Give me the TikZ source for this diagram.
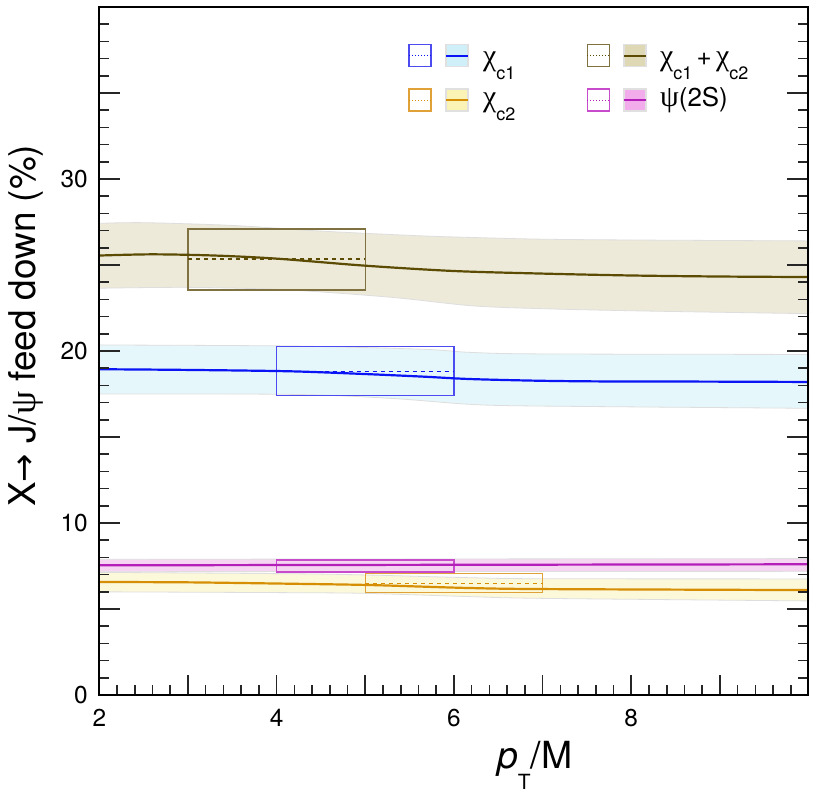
\documentclass[tikz,border=0pt]{standalone}
\usepackage{fontspec}
\setmainfont{TeX Gyre Heros}
\newfontfamily\grk{Liberation Serif}
\newfontfamily\arrowfont{DejaVu Sans}
\definecolor{olline}{HTML}{5C4B03}
\definecolor{olband}{HTML}{EDEADA}
\definecolor{olbox}{HTML}{7F7140}
\definecolor{olleg}{HTML}{DED8B5}
\definecolor{blline}{HTML}{0A14F5}
\definecolor{blband}{HTML}{E6F7FB}
\definecolor{blbox}{HTML}{4B4BF0}
\definecolor{blleg}{HTML}{CFF0F8}
\definecolor{orline}{HTML}{D68F05}
\definecolor{orband}{HTML}{FCF8DA}
\definecolor{orbox}{HTML}{E0A238}
\definecolor{orleg}{HTML}{FBF3B5}
\definecolor{mgline}{HTML}{B41EB9}
\definecolor{mgband}{HTML}{F6D5F2}
\definecolor{mgbox}{HTML}{C84BCB}
\definecolor{mgleg}{HTML}{F2ACEB}
\newcommand\lsub[1]{\raisebox{-14bp}{\fontsize{18}{18}\selectfont #1}}
\tikzset{
  bandedge/.style={draw=black!13, line width=0.8bp},
  curve/.style={line width=2.2bp},
  errbox/.style={line width=1.4bp},
  dashln/.style={line width=1.1bp, dash pattern=on 4bp off 4bp},
  tickln/.style={line width=1.6bp, black!85},
  ticklab/.style={inner sep=0pt, font=\fontsize{24.5}{28}\selectfont},
  legtxt/.style={inner sep=0pt, anchor=base west, font=\fontsize{26}{30}\selectfont},
  legbox/.style={line width=1.2bp},
}
\begin{document}
\begin{tikzpicture}[x=1bp,y=-1bp]
\useasboundingbox (0,0) rectangle (815,793);
\fill[white] (0,0) rectangle (815,793);
% ---------------- data ----------------
\begin{scope}[shift={(-78.02,695)}, x=88.66bp, y=17.2bp]
 % bands
 \filldraw[fill=olband, bandedge] plot[smooth] coordinates {(2,27.42) (2.5,27.46) (3.5,27.3) (4.5,26.97) (5.6,26.7) (6.2,26.6) (7,26.5) (8.1,26.45) (10,26.4)}
   -- plot[smooth] coordinates {(10,22.17) (8.1,22.33) (7,22.46) (6.2,22.63) (5.3,23.12) (4.1,23.56) (3,23.7) (2,23.65)} -- cycle;
 \filldraw[fill=blband, bandedge] plot[smooth] coordinates {(2,20.35) (4.15,20.29) (5.65,20.1) (6.18,19.92) (6.97,19.83) (10,19.8)}
   -- plot[smooth] coordinates {(10,16.67) (6.97,16.8) (6.18,16.9) (5.28,17.25) (4.15,17.48) (2,17.5)} -- cycle;
 \filldraw[fill=orband, bandedge] plot[smooth] coordinates {(2,7.13) (4.15,7.05) (5,6.98) (6.18,6.82) (6.97,6.76) (10,6.75)}
   -- plot[smooth] coordinates {(10,5.47) (6.97,5.62) (6.18,5.72) (5,5.91) (4.15,5.95) (2,6.0)} -- cycle;
 \filldraw[fill=mgband, bandedge] (2,7.89) -- (10,7.93) -- (10,7.19) -- (2,7.17) -- cycle;
 % error boxes and dashed lines
 \draw[olbox, errbox] (3,23.55) rectangle (5,27.1);
 \draw[olline, dashln] (3,25.35) -- (5,25.35);
 \draw[blbox, errbox] (4,17.4) rectangle (6,20.25);
 \draw[blline, dashln] (4,18.8) -- (6,18.8);
 \draw[orbox, errbox] (5,5.97) rectangle (7,7.07);
 \draw[orline, dashln] (5,6.5) -- (7,6.5);
 \draw[mgbox, errbox] (4,7.15) rectangle (6,7.85);
 \draw[mgline, dashln] (4,7.56) -- (6,7.56);
 % central curves
 \draw[olline, curve] plot[smooth] coordinates {(2,25.55) (2.6,25.62) (3.3,25.55) (4,25.37) (5,24.96) (6,24.65) (7,24.5) (8,24.39) (9,24.33) (10,24.3)};
 \draw[blline, curve] plot[smooth] coordinates {(2,18.94) (3,18.9) (4.15,18.82) (5,18.66) (5.65,18.51) (6.18,18.37) (6.97,18.27) (7.72,18.23) (8.85,18.22) (10,18.2)};
 \draw[orline, curve] plot[smooth] coordinates {(2,6.57) (3,6.55) (4.15,6.47) (5,6.4) (5.65,6.3) (6.18,6.22) (6.97,6.16) (10,6.1)};
 \draw[mgline, curve] (2,7.54) -- (10,7.6);
\end{scope}
% ---------------- frame & ticks ----------------
\foreach \v in {1,...,39}{
  \pgfmathsetmacro\yy{695-17.2*\v}
  \pgfmathsetmacro\len{mod(\v,5)==0 ? 21 : 10}
  \draw[tickln] (99.3,\yy) -- ++(\len,0);
  \draw[tickln] (808.3,\yy) -- ++(-\len,0);
}
\foreach \i in {1,...,39}{
  \pgfmathsetmacro\xx{99.3+17.732*\i}
  \pgfmathsetmacro\len{mod(\i,5)==0 ? 20 : 10}
  \draw[tickln] (\xx,695) -- ++(0,-\len);
}
\draw[line width=2bp] (99.3,7) rectangle (808.3,695);
% tick labels
\foreach \v/\nm in {0/ya,10/yb,20/yc,30/yd}{
  \node[ticklab, anchor=base east] (\nm) at (88, 695-17.2*\v+8.85) {\v};
}
\foreach \x/\nm in {2/xa,4/xb,6/xc,8/xd}{
  \node[ticklab, anchor=base] (\nm) at (99.3+88.66*\x-177.32, 726) {\x};
}
% axis titles
\node[inner sep=0pt, anchor=base west, rotate=90, font=\fontsize{37}{40}\selectfont] (ytitle) at (35,507) {X{\arrowfont\fontsize{34}{40}\selectfont →} J/{\grk ψ} feed down (\%)};
\node[inner sep=0pt, anchor=base west, font=\fontsize{37.5}{40}\selectfont] (xtitle) at (497,768) {\textit{p}\raisebox{-21bp}{\fontsize{21}{21}\selectfont T}/M};
% ---------------- legend ----------------
% col 1 row 1
\draw[blbox, legbox] (409,44.7) rectangle (431,66.7);
\draw[blline, line width=1bp, dotted] (409,55.7) -- (431,55.7);
\filldraw[fill=blleg, draw=black!12, legbox] (446,44.7) rectangle (468,66.7);
\draw[blline, line width=2.2bp] (446,55.7) -- (468,55.7);
\node[legtxt] (l1) at (483,66) {{\grk\fontsize{30}{30}\selectfont χ}\lsub{c1}};
% col 1 row 2
\draw[orbox, legbox] (409,89) rectangle (431,111);
\draw[orline, line width=1bp, dotted] (409,100) -- (431,100);
\filldraw[fill=orleg, draw=black!12, legbox] (446,89) rectangle (468,111);
\draw[orline, line width=2.2bp] (446,100) -- (468,100);
\node[legtxt] (l2) at (483,106) {{\grk\fontsize{30}{30}\selectfont χ}\lsub{c2}};
% col 2 row 1
\draw[olbox, legbox] (587.3,44.7) rectangle (609.3,66.7);
\draw[olline, line width=1bp, dotted] (587.3,55.7) -- (609.3,55.7);
\filldraw[fill=olleg, draw=black!12, legbox] (624,44.7) rectangle (646,66.7);
\draw[olline, line width=2.2bp] (624,55.7) -- (646,55.7);
\node[legtxt] (l3) at (660,66) {{\grk\fontsize{30}{30}\selectfont χ}\lsub{c1}\,+\,{\grk\fontsize{30}{30}\selectfont χ}\lsub{c2}};
% col 2 row 2
\draw[mgbox, legbox] (587.3,89) rectangle (609.3,111);
\draw[mgline, line width=1bp, dotted] (587.3,100) -- (609.3,100);
\filldraw[fill=mgleg, draw=black!12, legbox] (624,89) rectangle (646,111);
\draw[mgline, line width=2.2bp] (624,100) -- (646,100);
\node[legtxt] (l4) at (660,106) {{\grk\fontsize{30}{30}\selectfont ψ}(2S)};
\end{tikzpicture}
\end{document}
